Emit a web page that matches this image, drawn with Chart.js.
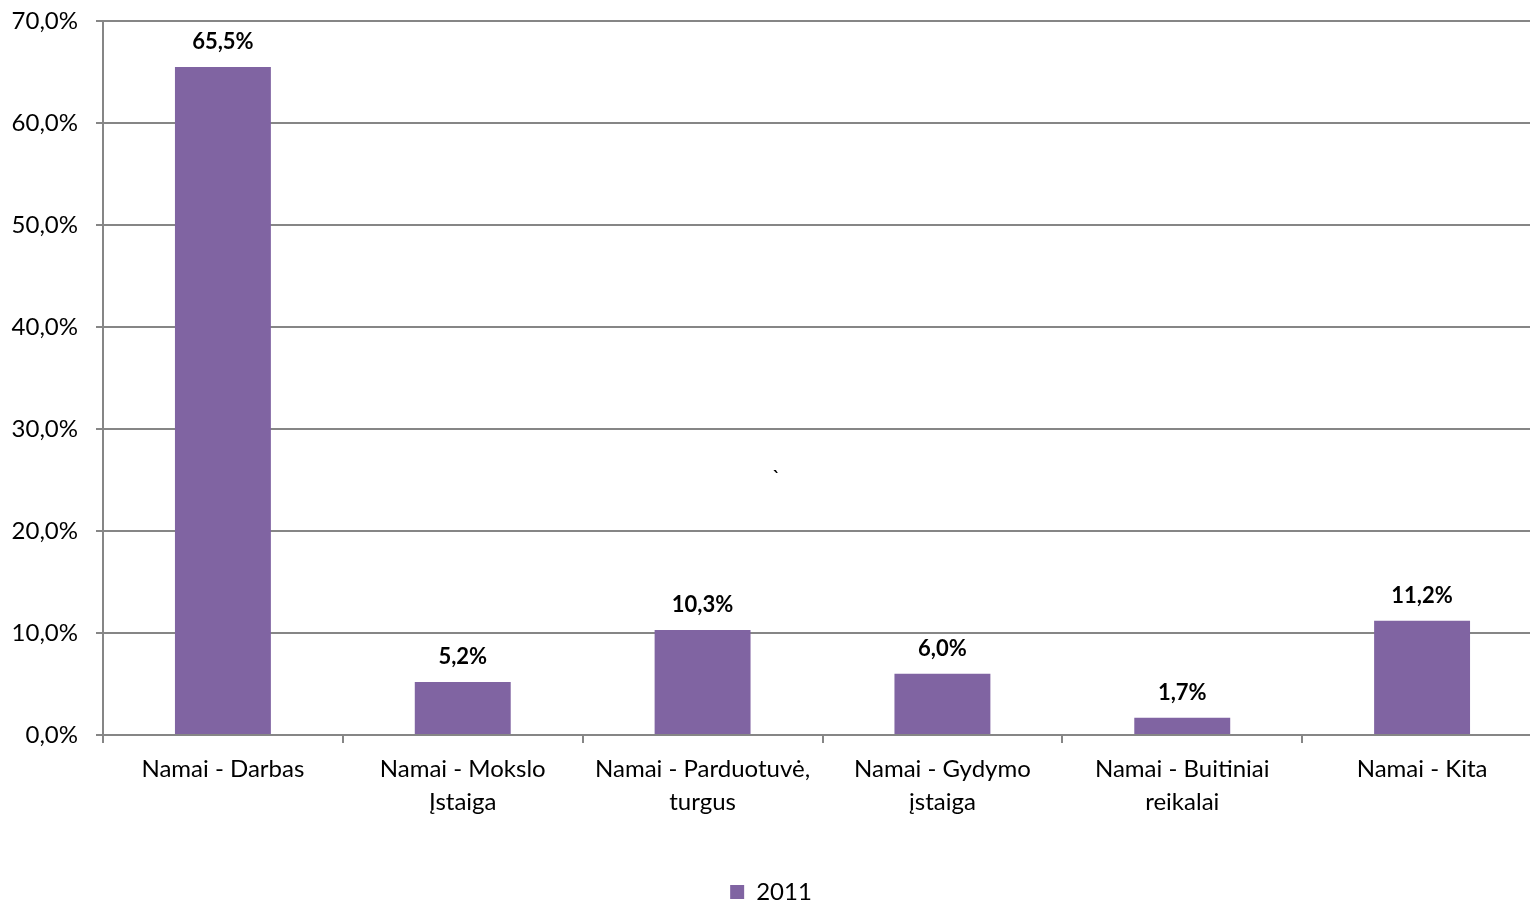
<!DOCTYPE html>
<html>
<head>
<meta charset="utf-8">
<script src="https://cdn.jsdelivr.net/npm/chart.js@4"></script>
<style>
  html, body { margin: 0; padding: 0; background: #fff; overflow: hidden; }
  #wrap { width: 1542px; height: 904px; position: relative; }
</style>
</head>
<body>
<div id="wrap"><canvas id="chart"></canvas></div>
<script>
const categories = [
  'Namai - Darbas',
  ['Namai - Mokslo', 'Įstaiga'],
  ['Namai - Parduotuvė,', 'turgus'],
  ['Namai - Gydymo', 'įstaiga'],
  ['Namai - Buitiniai', 'reikalai'],
  'Namai - Kita'
];
const values2011 = [65.5, 5.2, 10.3, 6.0, 1.7, 11.2];
const yTicks = [0, 10, 20, 30, 40, 50, 60, 70];

const fmt = v => v.toFixed(1).replace('.', ',') + '%';
const FONT = 'Lato, "Open Sans", sans-serif';
const GRID = '#868686';

const barLabels = {
  id: 'barLabels',
  afterDatasetsDraw(chart) {
    const ctx = chart.ctx;
    const meta = chart.getDatasetMeta(0);
    ctx.save();
    ctx.font = 'bold 22px ' + FONT;
    ctx.fillStyle = '#000';
    ctx.textAlign = 'center';
    ctx.textBaseline = 'bottom';
    meta.data.forEach((bar, i) => {
      ctx.fillText(fmt(values2011[i]), bar.x, bar.y - 14);
    });
    // stray mark present in the original
    ctx.font = '22px ' + FONT;
    const a = chart.chartArea;
    ctx.fillText('`', a.left + (a.right - a.left) * 0.468, a.top + (a.bottom - a.top) * 0.655);
    ctx.restore();
  }
};

new Chart(document.getElementById('chart'), {
  type: 'bar',
  data: {
    labels: categories,
    datasets: [{
      label: '2011',
      data: values2011,
      backgroundColor: '#8064A2',
      borderWidth: 0,
      categoryPercentage: 1,
      barPercentage: 0.4
    }]
  },
  options: {
    responsive: true,
    maintainAspectRatio: false,
    animation: false,
    layout: { padding: { top: 21, left: 0, right: 0, bottom: -10 } },
    plugins: {
      tooltip: { enabled: false },
      legend: {
        position: 'bottom',
        labels: {
          color: '#000',
          font: { family: FONT, size: 24 },
          boxWidth: 14,
          boxHeight: 14,
          padding: 4
        }
      }
    },
    scales: {
      x: {
        grid: {
          offset: true,
          drawOnChartArea: false,
          drawTicks: true,
          tickLength: 8,
          color: GRID,
          lineWidth: 2
        },
        border: { color: GRID, width: 2 },
        ticks: {
          color: '#000',
          font: { family: FONT, size: 24, lineHeight: 1.38 },
          padding: 10,
          maxRotation: 0,
          autoSkip: false
        },
        afterFit(scale) { scale.height = 141; }
      },
      y: {
        min: 0,
        max: 70,
        afterBuildTicks(scale) { scale.ticks = yTicks.map(v => ({ value: v })); },
        grid: {
          color: GRID,
          lineWidth: 2,
          drawTicks: true,
          tickLength: 7
        },
        border: { color: GRID, width: 2 },
        ticks: {
          color: '#000',
          font: { family: FONT, size: 24 },
          padding: 18,
          callback: v => fmt(v)
        },
        afterFit(scale) {
          scale.width = 103;
          scale.paddingTop = 0;
          scale.paddingBottom = 0;
        }
      }
    }
  },
  plugins: [barLabels]
});
</script>
</body>
</html>
